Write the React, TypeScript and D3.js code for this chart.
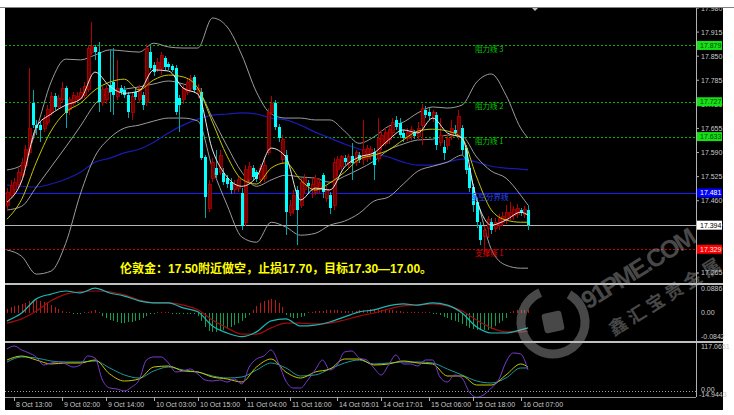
import React from 'react';
import * as d3 from 'd3';

// H1 bars, 8 Oct 11:00 .. 16 Oct 09:00  [open, high, low, close]
const candles: [number, number, number, number][] = [
  [17.448,17.494,17.435,17.483],[17.475,17.516,17.467,17.502],[17.489,17.521,17.475,17.510],[17.505,17.548,17.494,17.537],
  [17.529,17.575,17.521,17.564],[17.556,17.610,17.548,17.597],[17.591,17.818,17.583,17.656],[17.723,17.759,17.656,17.664],
  [17.664,17.678,17.637,17.656],[17.664,17.672,17.618,17.651],[17.656,17.691,17.645,17.683],[17.672,17.718,17.664,17.705],
  [17.697,17.753,17.688,17.742],[17.742,17.750,17.705,17.713],[17.715,17.745,17.710,17.737],[17.732,17.780,17.723,17.764],
  [17.764,17.769,17.656,17.697],[17.705,17.740,17.691,17.732],[17.723,17.753,17.715,17.745],[17.734,17.753,17.729,17.742],
  [17.737,17.764,17.732,17.753],[17.745,17.780,17.737,17.769],[17.759,17.880,17.753,17.872],[17.861,17.942,17.853,17.875],
  [17.875,17.880,17.840,17.861],[17.861,17.888,17.699,17.726],[17.726,17.769,17.715,17.759],[17.732,17.772,17.721,17.764],
  [17.772,17.867,17.699,17.753],[17.780,17.872,17.691,17.745],[17.742,17.840,17.732,17.764],[17.764,17.772,17.745,17.753],
  [17.759,17.769,17.737,17.745],[17.745,17.753,17.683,17.699],[17.699,17.753,17.678,17.742],[17.753,17.764,17.732,17.740],
  [17.732,17.772,17.723,17.764],[17.745,17.753,17.705,17.718],[17.726,17.883,17.715,17.872],[17.861,17.877,17.813,17.818],
  [17.826,17.834,17.796,17.807],[17.818,17.845,17.807,17.834],[17.818,17.861,17.799,17.853],[17.845,17.850,17.813,17.821],
  [17.829,17.834,17.813,17.821],[17.823,17.829,17.807,17.813],[17.818,17.826,17.691,17.699],[17.737,17.745,17.645,17.718],
  [17.732,17.775,17.721,17.764],[17.753,17.791,17.745,17.780],[17.764,17.799,17.753,17.791],[17.794,17.799,17.750,17.759],
  [17.748,17.775,17.737,17.764],[17.753,17.764,17.570,17.575],[17.578,17.583,17.413,17.470],[17.440,17.516,17.429,17.505],
  [17.521,17.575,17.510,17.564],[17.548,17.597,17.521,17.529],[17.537,17.597,17.529,17.583],[17.535,17.548,17.502,17.510],
  [17.521,17.529,17.494,17.505],[17.510,17.521,17.478,17.489],[17.489,17.516,17.481,17.505],[17.494,17.526,17.483,17.516],
  [17.481,17.494,17.381,17.391],[17.402,17.556,17.391,17.543],[17.516,17.564,17.505,17.553],[17.548,17.556,17.516,17.524],
  [17.537,17.543,17.510,17.518],[17.516,17.559,17.505,17.548],[17.521,17.570,17.510,17.556],[17.591,17.710,17.583,17.699],
  [17.699,17.742,17.691,17.723],[17.723,17.732,17.651,17.659],[17.659,17.667,17.618,17.629],[17.570,17.637,17.559,17.624],
  [17.583,17.597,17.367,17.429],[17.427,17.462,17.418,17.448],[17.435,17.489,17.424,17.475],[17.489,17.499,17.340,17.435],
  [17.448,17.521,17.440,17.510],[17.489,17.532,17.478,17.521],[17.508,17.516,17.478,17.499],[17.489,17.521,17.467,17.505],
  [17.483,17.529,17.475,17.521],[17.489,17.521,17.478,17.508],[17.529,17.535,17.467,17.483],[17.467,17.499,17.456,17.489],
  [17.475,17.483,17.424,17.440],[17.448,17.575,17.435,17.564],[17.543,17.580,17.526,17.570],[17.553,17.583,17.543,17.578],
  [17.575,17.583,17.556,17.564],[17.559,17.586,17.548,17.578],[17.580,17.615,17.516,17.562],[17.564,17.597,17.553,17.591],
  [17.583,17.591,17.562,17.570],[17.570,17.678,17.556,17.597],[17.575,17.610,17.564,17.602],[17.580,17.607,17.570,17.597],
  [17.591,17.602,17.516,17.556],[17.575,17.683,17.564,17.629],[17.610,17.651,17.597,17.637],[17.615,17.656,17.607,17.643],
  [17.624,17.661,17.613,17.651],[17.643,17.683,17.634,17.672],[17.678,17.688,17.651,17.659],[17.670,17.683,17.629,17.637],
  [17.643,17.651,17.618,17.629],[17.629,17.656,17.621,17.645],[17.634,17.661,17.624,17.651],[17.645,17.651,17.626,17.634],
  [17.634,17.672,17.624,17.656],[17.664,17.721,17.610,17.710],[17.705,17.715,17.683,17.691],[17.699,17.710,17.678,17.688],
  [17.683,17.705,17.672,17.699],[17.691,17.699,17.597,17.610],[17.618,17.683,17.607,17.637],[17.605,17.624,17.570,17.589],
  [17.610,17.640,17.597,17.629],[17.632,17.678,17.624,17.656],[17.651,17.664,17.634,17.643],[17.637,17.705,17.624,17.688],
  [17.656,17.664,17.583,17.597],[17.602,17.610,17.532,17.543],[17.548,17.556,17.483,17.494],[17.497,17.505,17.429,17.448],
  [17.456,17.467,17.386,17.402],[17.394,17.402,17.340,17.354],[17.364,17.391,17.321,17.381],[17.386,17.418,17.359,17.408],
  [17.402,17.413,17.370,17.381],[17.386,17.413,17.375,17.402],[17.394,17.424,17.381,17.413],[17.402,17.429,17.391,17.418],
  [17.408,17.448,17.397,17.429],[17.418,17.456,17.408,17.427],[17.421,17.445,17.408,17.435],[17.424,17.451,17.413,17.440],
  [17.435,17.440,17.418,17.427],[17.424,17.445,17.413,17.435],[17.435,17.448,17.381,17.394],
];

// indicator readings, one value every 4 bars (plus the last bar)
const bbUpper = [17.543,17.556,17.653,17.780,17.842,17.840,17.853,17.867,17.864,17.861,17.885,17.875,17.872,17.872,17.953,17.929,17.853,17.753,17.694,17.683,17.683,17.678,17.678,17.648,17.615,17.632,17.661,17.672,17.697,17.713,17.710,17.718,17.780,17.802,17.745,17.656,17.629];
const bbMid = [17.435,17.445,17.497,17.551,17.605,17.661,17.721,17.753,17.761,17.767,17.775,17.783,17.775,17.759,17.683,17.607,17.537,17.499,17.516,17.529,17.524,17.521,17.510,17.526,17.545,17.567,17.597,17.613,17.624,17.626,17.637,17.634,17.578,17.540,17.521,17.475,17.448];
const bbLower = [17.327,17.310,17.262,17.270,17.345,17.478,17.580,17.629,17.656,17.664,17.675,17.683,17.683,17.675,17.548,17.448,17.362,17.348,17.402,17.389,17.367,17.372,17.394,17.405,17.426,17.459,17.470,17.505,17.540,17.553,17.564,17.583,17.467,17.329,17.286,17.278,17.278];
const maFast = [17.456,17.513,17.659,17.694,17.718,17.734,17.807,17.769,17.750,17.756,17.813,17.810,17.764,17.748,17.597,17.524,17.499,17.524,17.602,17.578,17.462,17.494,17.489,17.551,17.578,17.589,17.624,17.651,17.643,17.683,17.643,17.629,17.462,17.394,17.408,17.429,17.421];
const maMid = [17.410,17.464,17.564,17.648,17.699,17.723,17.759,17.780,17.788,17.759,17.786,17.799,17.794,17.764,17.672,17.580,17.518,17.505,17.548,17.562,17.516,17.489,17.508,17.537,17.572,17.583,17.597,17.624,17.648,17.653,17.648,17.629,17.524,17.435,17.408,17.402,17.402];
const maSlow = [17.502,17.499,17.497,17.505,17.518,17.537,17.564,17.575,17.589,17.599,17.618,17.643,17.664,17.680,17.691,17.694,17.697,17.694,17.683,17.678,17.664,17.645,17.629,17.613,17.599,17.586,17.578,17.564,17.556,17.556,17.564,17.572,17.564,17.553,17.548,17.545,17.543];

const macdMain = [-0.028,0.000,0.050,0.067,0.078,0.071,0.088,0.071,0.060,0.043,0.036,0.036,0.018,0.004,-0.046,-0.071,-0.084,-0.067,-0.028,-0.021,-0.046,-0.043,-0.032,-0.014,0.004,0.011,0.025,0.032,0.028,0.036,0.028,0.000,-0.050,-0.071,-0.071,-0.060,-0.053];
const macdSignal = [-0.036,-0.021,0.007,0.043,0.067,0.075,0.078,0.075,0.064,0.046,0.036,0.036,0.028,0.011,-0.025,-0.053,-0.075,-0.075,-0.053,-0.036,-0.036,-0.039,-0.036,-0.025,-0.011,0.000,0.014,0.025,0.028,0.032,0.025,0.007,-0.025,-0.053,-0.067,-0.067,-0.064];
// histogram, one per bar
const macdHist = [
  0.014,0.021,0.025,0.028,0.032,0.036,0.043,0.046,0.046,0.043,0.039,0.036,0.028,0.021,0.014,
  0.007,0.004,0.004,-0.004,-0.004,-0.004,0.004,0.004,0.007,0.011,0.004,
  -0.011,-0.018,-0.025,-0.028,-0.032,-0.036,-0.036,-0.032,-0.032,-0.028,-0.025,-0.018,-0.011,
  -0.004,-0.004,0.004,0.004,0.004,0.004,-0.004,-0.004,-0.004,-0.004,-0.004,-0.004,-0.004,
  -0.011,-0.028,-0.050,-0.064,-0.067,-0.067,-0.064,-0.060,-0.057,-0.050,-0.043,-0.036,
  -0.028,-0.018,-0.007,
  0.011,0.025,0.036,0.043,0.046,0.050,0.046,0.036,0.021,
  -0.007,-0.014,-0.018,-0.018,-0.014,-0.011,
  0.004,0.004,0.007,0.007,0.007,0.011,0.011,0.011,0.011,0.007,0.007,0.007,0.007,0.007,0.011,0.011,
  0.011,0.014,0.014,0.014,0.011,0.011,0.011,0.011,
  0.007,0.007,0.004,0.004,0.004,0.004,0.004,0.004,0.004,0.004,-0.004,-0.004,
  -0.007,-0.014,-0.018,-0.025,-0.028,-0.032,-0.039,-0.046,-0.053,-0.057,-0.060,-0.060,-0.060,-0.060,-0.057,-0.046,-0.036,-0.028,-0.018,
  0.004,0.007,0.011,0.011,0.011,0.011,
];

const kdjK = [81.0,91.3,81.0,70.8,73.3,73.3,81.0,45.0,27.0,32.2,63.0,65.6,52.8,50.2,37.3,32.2,24.4,63.0,83.6,50.2,34.7,50.2,57.9,83.6,83.6,68.2,70.8,78.5,73.3,70.8,39.9,39.9,16.7,16.7,42.5,70.8,63.0];
const kdjD = [75.9,88.8,86.2,78.5,75.9,75.9,78.5,60.5,42.5,34.7,52.8,63.0,55.3,50.2,39.9,34.7,37.3,55.3,73.3,60.5,39.9,42.5,57.9,73.3,81.0,70.8,73.3,75.9,75.9,73.3,57.9,42.5,27.0,21.9,34.7,60.5,60.5];
// J line, one value every 2 bars
const kdjJ = [109.4,117.0,106.8,99.1,88.8,68.2,73.3,75.9,70.8,63.0,68.2,91.3,86.2,29.6,9.0,6.4,1.3,11.6,29.6,81.0,88.8,88.8,73.3,50.2,52.8,57.9,45.0,29.6,27.0,29.6,24.4,32.2,19.3,63.0,83.6,91.3,106.8,73.3,27.0,9.0,9.0,29.6,55.3,81.0,55.3,68.2,101.6,104.2,86.2,81.0,60.5,42.5,68.2,93.9,70.8,70.8,65.6,81.0,81.0,37.3,24.4,42.5,34.7,-1.3,-14.9,-8.0,9.0,29.6,75.9,99.1,96.5,55.3];

const priceTicks = ['17.980','17.915','17.850','17.785','17.720','17.655','17.590','17.525','17.460','17.395','17.330','17.265'];
const timeLabels = ['8 Oct 13:00','9 Oct 02:00','9 Oct 14:00','10 Oct 03:00','10 Oct 15:00','11 Oct 04:00','11 Oct 16:00','14 Oct 05:01','14 Oct 17:01','15 Oct 06:00','15 Oct 18:00','16 Oct 07:00'];
const timeBars = [2, 15, 27, 40, 52, 65, 77, 90, 102, 115, 127, 140];

const levelPrices = [17.879, 17.727, 17.633, 17.481, 17.394, 17.329];
const levelNames = ['阻力线 3', '阻力线 2', '阻力线 1', '多空分界线', '', '支撑线 1'];

const macdTicks = ['0.0886', '0.00', '-0.0842'];
const kdjTicks = ['117.0651', '0.00', '-14.9443'];

const note = '伦敦金：17.50附近做空，止损17.70，目标17.30—17.00。';

const levelStyle = [
  { stroke: '#00b400', dash: '2,2', text: '#00c800', box: '#16e016', boxText: '#004000' },
  { stroke: '#00b400', dash: '2,2', text: '#00c800', box: '#16e016', boxText: '#004000' },
  { stroke: '#00b400', dash: '2,2', text: '#00c800', box: '#16e016', boxText: '#004000' },
  { stroke: '#1a1aff', dash: null, text: '#2a48ff', box: '#0000ff', boxText: '#ffffff' },
  { stroke: '#b4b4b4', dash: null, text: '#fff', box: '#ffffff', boxText: '#000000' },
  { stroke: '#c80000', dash: '2,2', text: '#e00000', box: '#ff0000', boxText: '#ffe8e8' },
];

const axisFont = '"Liberation Sans Narrow", "Liberation Sans", sans-serif';

export default function App() {
  const x = d3.scaleLinear().domain([0, 142]).range([7, 528]);
  const yMain = d3.scaleLinear().domain([17.238, 17.98]).range([283, 8]);
  const yMacd = d3.scaleLinear().domain([-0.0842, 0.0886]).range([336.7, 288]);
  const yKdj = d3.scaleLinear().domain([-14.9443, 117.0651]).range([397.3, 346]);

  const s4 = d3.range(0, 141, 4).concat([142]);
  const s2 = d3.range(0, 143, 2);

  const path = (vals: number[], idx: number[], y: d3.ScaleLinear<number, number>) =>
    d3.line<number>()
      .x((_, i) => x(idx[i]))
      .y((v) => y(v))
      .curve(d3.curveMonotoneX)(vals) || '';

  const axisRight = 696;

  return (
    <svg width={734} height={415} style={{ position: 'absolute', left: 0, top: 0, display: 'block' }}>
      <defs>
        <clipPath id="clipMain"><rect x={5} y={8} width={axisRight - 5} height={275} /></clipPath>
        <clipPath id="clipMacd"><rect x={5} y={285} width={axisRight - 5} height={56} /></clipPath>
        <clipPath id="clipKdj"><rect x={5} y={344} width={axisRight - 5} height={53} /></clipPath>
      </defs>
      <rect width={734} height={415} fill="#fff" />
      <rect x={5} y={7} width={718} height={403} fill="#000" />

      {/* price levels */}
      {levelPrices.map((p, i) => (
        <line key={'lv' + i} x1={5} x2={axisRight} y1={Math.round(yMain(p)) + 0.5} y2={Math.round(yMain(p)) + 0.5}
          stroke={levelStyle[i].stroke} strokeWidth={1} strokeDasharray={levelStyle[i].dash || undefined} />
      ))}

      {/* main chart indicator lines */}
      <g clipPath="url(#clipMain)" fill="none" strokeWidth={1}>
        <path d={path(maSlow, s4, yMain)} stroke="#1a1ab4" strokeWidth={1.2} />
        <path d={path(bbUpper, s4, yMain)} stroke="#9c9c9c" />
        <path d={path(bbMid, s4, yMain)} stroke="#9c9c9c" />
        <path d={path(bbLower, s4, yMain)} stroke="#9c9c9c" />
      </g>

      {/* candles */}
      <g clipPath="url(#clipMain)" shapeRendering="crispEdges">
        {candles.map(([o, h, l, c], i) => {
          const cx = Math.round(x(i));
          const bull = c >= o;
          const top = yMain(Math.max(o, c));
          const bot = yMain(Math.min(o, c));
          return (
            <g key={'c' + i}>
              <line x1={cx + 0.5} x2={cx + 0.5} y1={yMain(h)} y2={yMain(l)} stroke={bull ? '#b40000' : '#00a8a8'} />
              <rect x={cx - 1} y={top} width={3} height={Math.max(1, bot - top)}
                fill={bull ? '#6e0000' : '#00ffff'} stroke={bull ? '#b40000' : 'none'} strokeWidth={bull ? 0.8 : 0} />
            </g>
          );
        })}
      </g>

      <g clipPath="url(#clipMain)" fill="none" strokeWidth={1}>
        <path d={path(maMid, s4, yMain)} stroke="#c8c800" />
        <path d={path(maFast, s4, yMain)} stroke="#f0e6e6" />
      </g>

      {/* level labels inside chart */}
      {levelPrices.map((p, i) => levelNames[i] ? (
        <text key={'ln' + i} x={i === 3 ? 471 : 475} y={yMain(p) + 7} fontSize={7.5}
          fontFamily='"Noto Sans CJK SC", sans-serif' fill={levelStyle[i].text}>{levelNames[i]}</text>
      ) : null)}

      {/* note */}
      <text x={120} y={273} fontSize={12} fontWeight="bold" fill="#ffff00"
        fontFamily='"Liberation Sans", "Noto Sans CJK SC", sans-serif'>{note}</text>

      {/* MACD */}
      <g clipPath="url(#clipMacd)">
        {macdHist.map((v, i) => (
          <line key={'h' + i} x1={Math.round(x(i)) + 0.5} x2={Math.round(x(i)) + 0.5} y1={yMacd(0)} y2={yMacd(v)}
            stroke={v >= 0 ? '#c01818' : '#10a050'} strokeWidth={1} />
        ))}
        <path d={path(macdSignal, s4, yMacd)} stroke="#a00c0c" fill="none" strokeWidth={1.2} />
        <path d={path(macdMain, s4, yMacd)} stroke="#20b4b4" fill="none" strokeWidth={1.2} />
      </g>

      {/* KDJ */}
      <line x1={5} x2={axisRight} y1={Math.round(yKdj(0)) + 0.5} y2={Math.round(yKdj(0)) + 0.5} stroke="#a0a0a0" strokeDasharray="1,2" />
      <g clipPath="url(#clipKdj)" fill="none" strokeWidth={1}>
        <path d={path(kdjD, s4, yKdj)} stroke="#1e9a9a" />
        <path d={path(kdjK, s4, yKdj)} stroke="#c8c800" />
        <path d={path(kdjJ, s2, yKdj)} stroke="#7a3cd0" />
      </g>

      {/* frame and separators */}
      <g shapeRendering="crispEdges">
        <line x1={axisRight + 0.5} x2={axisRight + 0.5} y1={8} y2={397} stroke="#b0b0b0" />
        <rect x={5} y={283} width={718} height={2} fill="#c0c0c0" />
        <rect x={5} y={341} width={718} height={2} fill="#c0c0c0" />
        <line x1={5} x2={axisRight} y1={397.5} y2={397.5} stroke="#909090" />
      </g>

      {/* price axis */}
      {priceTicks.map((t) => {
        const yy = yMain(+t);
        return (
          <g key={'pt' + t}>
            <line x1={axisRight} x2={axisRight + 3} y1={yy} y2={yy} stroke="#b0b0b0" />
            <text x={701} y={yy + 2.5} fontSize={7} fontFamily={axisFont} fill="#c8c8c8">{t}</text>
          </g>
        );
      })}
      {levelPrices.map((p, i) => (
        <g key={'tag' + i}>
          <rect x={axisRight + 1} y={yMain(p) - 4.5} width={25} height={9} fill={levelStyle[i].box} />
          <text x={700} y={yMain(p) + 2.5} fontSize={7} fontFamily={axisFont} fill={levelStyle[i].boxText}>{p.toFixed(3)}</text>
        </g>
      ))}

      {/* MACD / KDJ axis */}
      {macdTicks.map((t) => (
        <text key={'mt' + t} x={701} y={yMacd(+t) + 2.5} fontSize={7} fontFamily={axisFont} fill="#c8c8c8">{t}</text>
      ))}
      {kdjTicks.map((t, i) => (
        <text key={'kt' + t} x={i === 2 ? 699 : 701} y={yKdj(+t) + (i === 0 ? 3 : i === 1 ? 0.5 : -0.5)} fontSize={7} fontFamily={axisFont} fill="#c8c8c8">{t}</text>
      ))}

      {/* time axis */}
      {timeLabels.map((t, i) => {
        const tx = Math.round(x(timeBars[i])) + 0.5;
        return (
          <g key={'tl' + i}>
            <line x1={tx} x2={tx} y1={397} y2={401} stroke="#b0b0b0" />
            <text x={tx + 1.5} y={407} fontSize={7} fontFamily={axisFont} fill="#c8c8c8">{t}</text>
          </g>
        );
      })}

      {/* shift marker */}
      <path d="M532,8 L538,8 L535,11 Z" fill="#c0c0c0" />

      {/* watermark */}
      <g opacity={0.4} fill="#b4b4b4">
        <circle cx={553} cy={322} r={32} fill="none" stroke="#b4b4b4" strokeWidth={9}
          strokeDasharray={`${2 * Math.PI * 32 * 0.85} ${2 * Math.PI * 32 * 0.15}`} transform="rotate(-60 553 322)" />
        <rect x={543} y={312} width={20} height={20} rx={3} transform="rotate(-12 553 322)" />
        <g transform="rotate(-32 588 310)">
          <text x={588} y={310} fontSize={25} fontWeight="bold" fontFamily='"Liberation Sans", sans-serif' textLength={130}>91PME.COM</text>
          <text x={596} y={346} fontSize={18} fontWeight="bold" fontFamily='"Noto Sans CJK SC", sans-serif' textLength={128}>鑫汇宝贵金属</text>
        </g>
      </g>

      <rect x={0} y={0} width={734} height={7} fill="#fff" />
      <line x1={0} x2={734} y1={7.5} y2={7.5} stroke="#808080" />
    </svg>
  );
}
